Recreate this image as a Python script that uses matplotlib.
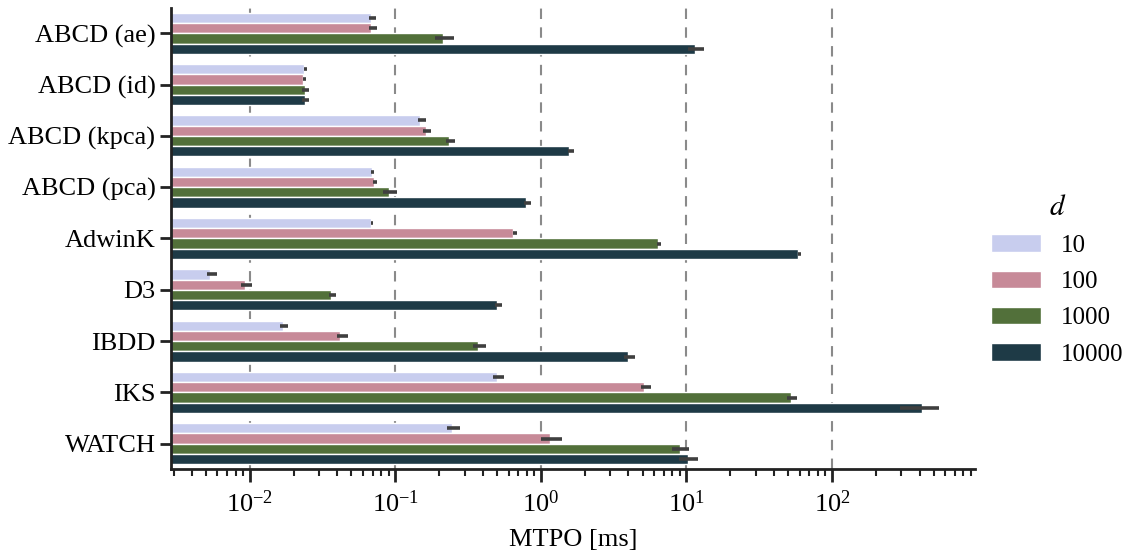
import numpy as np
import matplotlib
matplotlib.use("Agg")
import matplotlib.pyplot as plt
from matplotlib.patches import Patch

plt.rcParams['font.family'] = ['Liberation Serif', 'DejaVu Serif']
plt.rcParams['mathtext.fontset'] = 'stix'

# detectors and dimensionalities
detectors = ["ABCD (ae)", "ABCD (id)", "ABCD (kpca)", "ABCD (pca)", "AdwinK",
             "D3", "IBDD", "IKS", "WATCH"]
dims = ["10", "100", "1000", "10000"]
colors = ["#c8cdee", "#c78a98", "#52703a", "#1e3a46"]

# mean time per observation [ms], one list per d
mtpo_10 = [0.0684, 0.0235, 0.149, 0.0695, 0.0686, 0.0053, 0.0169, 0.503, 0.247]
mtpo_100 = [0.068, 0.0234, 0.162, 0.071, 0.649, 0.0093, 0.042, 5.14, 1.15]
mtpo_1000 = [0.214, 0.0238, 0.235, 0.091, 6.38, 0.0364, 0.372, 52.3, 9.05]
mtpo_10000 = [11.5, 0.024, 1.56, 0.79, 58.7, 0.498, 3.97, 414.0, 10.2]

# confidence interval bounds
ci_lo_10 = [0.0656, 0.0235, 0.143, 0.068, 0.068, 0.0051, 0.0161, 0.472, 0.225]
ci_hi_10 = [0.0733, 0.0248, 0.163, 0.0716, 0.0705, 0.0060, 0.0184, 0.56, 0.278]
ci_lo_100 = [0.0663, 0.0233, 0.154, 0.070, 0.639, 0.0087, 0.0395, 4.88, 1.0]
ci_hi_100 = [0.0751, 0.0244, 0.176, 0.0751, 0.69, 0.0103, 0.047, 5.7, 1.39]
ci_lo_1000 = [0.187, 0.0228, 0.222, 0.0827, 6.27, 0.0353, 0.342, 49.2, 7.97]
ci_hi_1000 = [0.253, 0.0254, 0.259, 0.103, 6.7, 0.039, 0.418, 57.6, 10.5]
ci_lo_10000 = [10.3, 0.023, 1.53, 0.77, 58.4, 0.485, 3.72, 292.0, 8.85]
ci_hi_10000 = [13.3, 0.0257, 1.68, 0.85, 61.6, 0.545, 4.43, 542.0, 12.1]

means = [mtpo_10, mtpo_100, mtpo_1000, mtpo_10000]
lows = [ci_lo_10, ci_lo_100, ci_lo_1000, ci_lo_10000]
highs = [ci_hi_10, ci_hi_100, ci_hi_1000, ci_hi_10000]

fig = plt.figure(figsize=(11.31, 5.59), dpi=100)
ax = fig.add_axes([0.1516, 0.1603, 0.7104, 0.8261])

y = np.arange(len(detectors))
offsets = [-0.3, -0.1, 0.1, 0.3]
for m, lo, hi, off, c in zip(means, lows, highs, offsets, colors):
    ax.barh(y + off, m, height=0.2, color=c, edgecolor='white', linewidth=1.0, zorder=2)
    ax.hlines(y + off, lo, hi, color='#3f3f3f', linewidth=2.6, zorder=3)

ax.set_xscale('log')
ax.set_xlim(0.0029, 960)
ax.set_ylim(len(detectors) - 0.5, -0.5)
ax.set_yticks(y)
ax.set_yticklabels(detectors)
ax.set_xlabel("MTPO [ms]", fontsize=19, labelpad=9)

ax.grid(axis='x', which='major', linestyle=(0, (5, 4)), color='#8a8a8a', linewidth=1.5)
ax.set_axisbelow(True)
for s in ['top', 'right']:
    ax.spines[s].set_visible(False)
for s in ['left', 'bottom']:
    ax.spines[s].set_linewidth(2.0)
    ax.spines[s].set_color('#222222')
ax.tick_params(axis='both', which='major', labelsize=19, width=2.0, length=8, color='#222222')
ax.tick_params(axis='x', which='minor', width=1.5, length=5, color='#222222')
ax.tick_params(axis='x', which='major', length=9, pad=6)

handles = [Patch(facecolor=c, edgecolor='white', label=d) for c, d in zip(colors, dims)]
leg = ax.legend(handles=handles, title="$d$", loc='center left', bbox_to_anchor=(1.0, 0.41),
                frameon=False, fontsize=18, title_fontsize=21, handlelength=2.0,
                handleheight=0.7, labelspacing=0.55, borderaxespad=0.25)

fig.savefig("out.png", dpi=100)
